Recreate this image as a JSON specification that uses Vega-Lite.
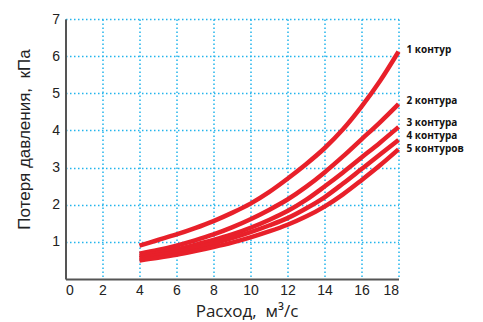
{
  "$schema": "https://vega.github.io/schema/vega-lite/v6.json",
  "autosize": "none",
  "width": 333,
  "height": 260,
  "padding": {"left": 65.5, "top": 19, "right": 84.5, "bottom": 43},
  "background": "white",
  "config": {
    "view": {"stroke": null},
    "axis": {
      "domainColor": "#555555",
      "domainWidth": 2,
      "ticks": false,
      "grid": true,
      "gridColor": "#22b4ec",
      "gridDash": [1.5, 2.5],
      "gridWidth": 1.5,
      "gridOpacity": 1,
      "labelColor": "#222222",
      "labelFont": "Liberation Sans",
      "labelFontSize": 14,
      "titleColor": "#222222",
      "titleFontWeight": "normal"
    }
  },
  "datasets": {
    "curves": [
      {"flow": 4, "loss": 0.9, "series": "1"},
      {"flow": 5, "loss": 1.05, "series": "1"},
      {"flow": 6, "loss": 1.2, "series": "1"},
      {"flow": 7, "loss": 1.37, "series": "1"},
      {"flow": 8, "loss": 1.56, "series": "1"},
      {"flow": 9, "loss": 1.78, "series": "1"},
      {"flow": 10, "loss": 2.03, "series": "1"},
      {"flow": 11, "loss": 2.34, "series": "1"},
      {"flow": 12, "loss": 2.7, "series": "1"},
      {"flow": 13, "loss": 3.09, "series": "1"},
      {"flow": 14, "loss": 3.52, "series": "1"},
      {"flow": 15, "loss": 4.03, "series": "1"},
      {"flow": 16, "loss": 4.64, "series": "1"},
      {"flow": 17, "loss": 5.33, "series": "1"},
      {"flow": 18, "loss": 6.12, "series": "1"},
      {"flow": 4, "loss": 0.68, "series": "2"},
      {"flow": 5, "loss": 0.78, "series": "2"},
      {"flow": 6, "loss": 0.9, "series": "2"},
      {"flow": 7, "loss": 1.04, "series": "2"},
      {"flow": 8, "loss": 1.2, "series": "2"},
      {"flow": 9, "loss": 1.39, "series": "2"},
      {"flow": 10, "loss": 1.61, "series": "2"},
      {"flow": 11, "loss": 1.86, "series": "2"},
      {"flow": 12, "loss": 2.14, "series": "2"},
      {"flow": 13, "loss": 2.48, "series": "2"},
      {"flow": 14, "loss": 2.87, "series": "2"},
      {"flow": 15, "loss": 3.3, "series": "2"},
      {"flow": 16, "loss": 3.76, "series": "2"},
      {"flow": 17, "loss": 4.22, "series": "2"},
      {"flow": 18, "loss": 4.71, "series": "2"},
      {"flow": 4, "loss": 0.62, "series": "3"},
      {"flow": 5, "loss": 0.7, "series": "3"},
      {"flow": 6, "loss": 0.8, "series": "3"},
      {"flow": 7, "loss": 0.92, "series": "3"},
      {"flow": 8, "loss": 1.05, "series": "3"},
      {"flow": 9, "loss": 1.2, "series": "3"},
      {"flow": 10, "loss": 1.38, "series": "3"},
      {"flow": 11, "loss": 1.59, "series": "3"},
      {"flow": 12, "loss": 1.83, "series": "3"},
      {"flow": 13, "loss": 2.13, "series": "3"},
      {"flow": 14, "loss": 2.49, "series": "3"},
      {"flow": 15, "loss": 2.87, "series": "3"},
      {"flow": 16, "loss": 3.27, "series": "3"},
      {"flow": 17, "loss": 3.67, "series": "3"},
      {"flow": 18, "loss": 4.09, "series": "3"},
      {"flow": 4, "loss": 0.56, "series": "4"},
      {"flow": 5, "loss": 0.64, "series": "4"},
      {"flow": 6, "loss": 0.73, "series": "4"},
      {"flow": 7, "loss": 0.84, "series": "4"},
      {"flow": 8, "loss": 0.96, "series": "4"},
      {"flow": 9, "loss": 1.1, "series": "4"},
      {"flow": 10, "loss": 1.26, "series": "4"},
      {"flow": 11, "loss": 1.44, "series": "4"},
      {"flow": 12, "loss": 1.64, "series": "4"},
      {"flow": 13, "loss": 1.9, "series": "4"},
      {"flow": 14, "loss": 2.2, "series": "4"},
      {"flow": 15, "loss": 2.57, "series": "4"},
      {"flow": 16, "loss": 2.96, "series": "4"},
      {"flow": 17, "loss": 3.35, "series": "4"},
      {"flow": 18, "loss": 3.74, "series": "4"},
      {"flow": 4, "loss": 0.5, "series": "5"},
      {"flow": 5, "loss": 0.57, "series": "5"},
      {"flow": 6, "loss": 0.65, "series": "5"},
      {"flow": 7, "loss": 0.75, "series": "5"},
      {"flow": 8, "loss": 0.86, "series": "5"},
      {"flow": 9, "loss": 0.98, "series": "5"},
      {"flow": 10, "loss": 1.12, "series": "5"},
      {"flow": 11, "loss": 1.28, "series": "5"},
      {"flow": 12, "loss": 1.46, "series": "5"},
      {"flow": 13, "loss": 1.68, "series": "5"},
      {"flow": 14, "loss": 1.95, "series": "5"},
      {"flow": 15, "loss": 2.28, "series": "5"},
      {"flow": 16, "loss": 2.66, "series": "5"},
      {"flow": 17, "loss": 3.06, "series": "5"},
      {"flow": 18, "loss": 3.49, "series": "5"}
    ],
    "labels": [
      {"flow": 18, "loss": 6.17, "label": "1 контур"},
      {"flow": 18, "loss": 4.8, "label": "2 контура"},
      {"flow": 18, "loss": 4.19, "label": "3 контура"},
      {"flow": 18, "loss": 3.84, "label": "4 контура"},
      {"flow": 18, "loss": 3.5, "label": "5 контуров"}
    ]
  },
  "encoding": {
    "x": {
      "field": "flow", "type": "quantitative",
      "scale": {"domain": [0, 18], "nice": false},
      "axis": {
        "values": [0, 2, 4, 6, 8, 10, 12, 14, 16, 18],
        "title": "Расход,\u00a0 м³/с",
        "titleFont": "Open Sans",
        "titleFontSize": 17,
        "titleAnchor": "middle",
        "titleX": 181,
        "titleY": 37,
        "titleBaseline": "alphabetic",
        "labelPadding": 4
      }
    },
    "y": {
      "field": "loss", "type": "quantitative",
      "scale": {"domain": [0, 7], "nice": false},
      "axis": {
        "values": [1, 2, 3, 4, 5, 6, 7],
        "title": "Потеря давления,\u00a0 кПа",
        "titleFont": "Liberation Sans",
        "titleFontSize": 17,
        "titleAnchor": "middle",
        "titleY": 120,
        "titleX": -41,
        "titleBaseline": "middle",
        "labelPadding": 6
      }
    }
  },
  "layer": [
    {
      "data": {"name": "curves"},
      "mark": {"type": "line", "color": "#e8202a", "strokeWidth": 4.5, "interpolate": "monotone", "strokeCap": "butt"},
      "encoding": {
        "detail": {"field": "series", "type": "nominal"}
      }
    },
    {
      "data": {"name": "labels"},
      "mark": {"type": "text", "align": "left", "dx": 8, "font": "Open Sans", "fontWeight": "bold", "fontSize": 10, "color": "#111111"},
      "encoding": {
        "text": {"field": "label", "type": "nominal"}
      }
    }
  ]
}
